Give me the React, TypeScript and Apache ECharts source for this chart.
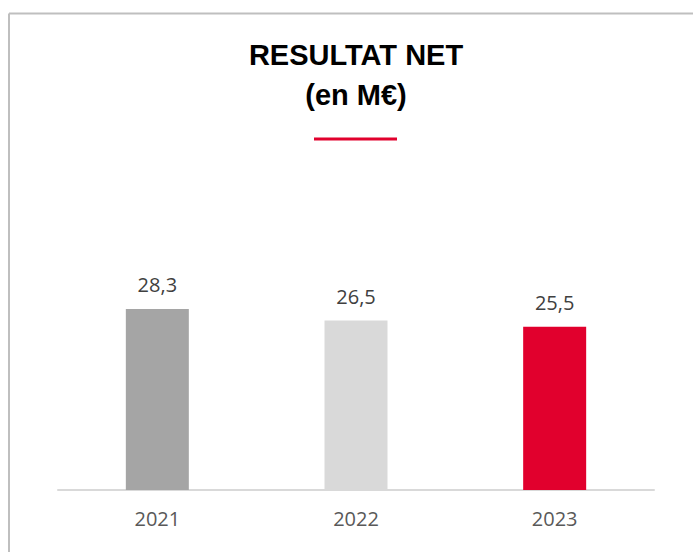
import React, { useEffect, useRef } from "react";
import * as echarts from "echarts";

const categories = ["2021", "2022", "2023"];
const values = [28.3, 26.5, 25.5];
const valueLabels = ["28,3", "26,5", "25,5"];
const barColors = ["#a5a5a5", "#d9d9d9", "#e1002d"];

export default function App() {
  const ref = useRef<HTMLDivElement>(null);
  useEffect(() => {
    const chart = echarts.init(ref.current!, null, { renderer: "svg" });
    chart.setOption({
      animation: false,
      backgroundColor: "#ffffff",
      grid: { left: 58, right: 39, top: 234, bottom: 62 },
      xAxis: {
        type: "category",
        data: categories,
        axisLine: { show: true, lineStyle: { color: "#d9d9d9", width: 2 } },
        axisTick: { show: false },
        axisLabel: {
          color: "#595959",
          fontSize: 20,
          fontFamily: "Open Sans",
          margin: 18,
        },
      },
      yAxis: {
        type: "value",
        min: 0,
        max: 40,
        show: false,
        splitLine: { show: false },
      },
      series: [
        {
          type: "bar",
          barWidth: 63,
          data: values.map((v, i) => ({
            value: v,
            itemStyle: { color: barColors[i] },
            label: { formatter: valueLabels[i] },
          })),
          label: {
            show: true,
            position: "top",
            distance: 14,
            color: "#404040",
            fontSize: 20,
            fontFamily: "Open Sans",
          },
        },
      ],
      graphic: [
        {
          type: "line",
          shape: { x1: 9, y1: 13.5, x2: 693, y2: 13.5 },
          style: { stroke: "#bfbfbf", lineWidth: 2 },
        },
        {
          type: "line",
          shape: { x1: 9, y1: 13.5, x2: 9, y2: 552 },
          style: { stroke: "#bfbfbf", lineWidth: 2 },
        },
        {
          type: "text",
          x: 356,
          y: 55,
          style: {
            text: "RESULTAT NET",
            fontSize: 29,
            fontWeight: "bold",
            fontFamily: "Liberation Sans",
            fill: "#000000",
            align: "center",
            verticalAlign: "middle",
          },
        },
        {
          type: "text",
          x: 356,
          y: 95,
          style: {
            text: "(en M€)",
            fontSize: 29,
            fontWeight: "bold",
            fontFamily: "Liberation Sans",
            fill: "#000000",
            align: "center",
            verticalAlign: "middle",
          },
        },
        {
          type: "rect",
          shape: { x: 314, y: 137.5, width: 83, height: 3 },
          style: { fill: "#e1002d" },
        },
      ],
    });
    return () => chart.dispose();
  }, []);
  return (
    <div
      ref={ref}
      style={{ position: "absolute", left: 0, top: 0, width: 693, height: 552 }}
    />
  );
}
